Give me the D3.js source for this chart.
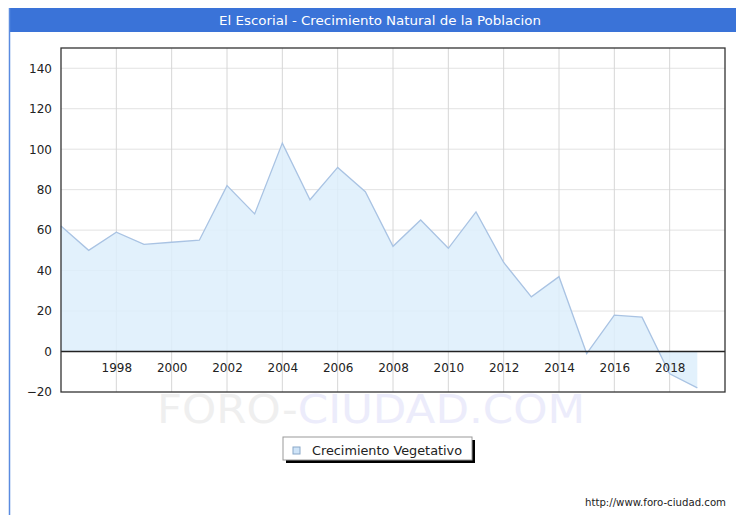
<!DOCTYPE html>
<html>
<head>
<meta charset="utf-8">
<script src="https://cdn.jsdelivr.net/npm/d3@7.9.0/dist/d3.min.js"></script>
<style>
  body { margin: 0; background: #fff; }
  svg { display: block; font-family: "DejaVu Sans", Verdana, sans-serif; }
</style>
</head>
<body>
<div id="viz"></div>
<script>
// Data
const years = [1996, 1997, 1998, 1999, 2000, 2001, 2002, 2003, 2004, 2005, 2006, 2007,
               2008, 2009, 2010, 2011, 2012, 2013, 2014, 2015, 2016, 2017, 2018, 2019];
const values = [62, 50, 59, 53, 54, 55, 82, 68, 103, 75, 91, 79,
                 52, 65, 51, 69, 44, 27, 37, -1, 18, 17, -11, -18];
const xTicks = [1998, 2000, 2002, 2004, 2006, 2008, 2010, 2012, 2014, 2016, 2018];
const yTicks = [-20, 0, 20, 40, 60, 80, 100, 120, 140];

const titleText = "El Escorial - Crecimiento Natural de la Poblacion";
const seriesName = "Crecimiento Vegetativo";

const data = years.map((y, i) => ({ year: y, value: values[i] }));

const W = 736, H = 515;
const plot = { left: 61, top: 48, right: 725, bottom: 392 };

const svg = d3.select("#viz").append("svg")
    .attr("width", W)
    .attr("height", H);

// title bar + left border of the frame
svg.append("rect")
    .attr("x", 9).attr("y", 8)
    .attr("width", W - 9).attr("height", 24)
    .attr("fill", "#3a73d8");
svg.append("line")
    .attr("x1", 9.5).attr("x2", 9.5)
    .attr("y1", 8).attr("y2", H)
    .attr("stroke", "#5a8be0").attr("stroke-width", 1.5);
svg.append("text")
    .attr("x", 380).attr("y", 25)
    .attr("text-anchor", "middle")
    .attr("fill", "#fff")
    .style("font-size", "12.5px")
    .attr("textLength", 322)
    .attr("lengthAdjust", "spacingAndGlyphs")
    .text(titleText);

var x = d3.scaleLinear()
    .domain([1996, 2020])
    .range([plot.left, plot.right]);
var y = d3.scaleLinear()
    .domain([-20, 150])
    .range([plot.bottom, plot.top]);

// watermark
const wm = svg.append("text")
    .attr("x", 157).attr("y", 423)
    .style("font-size", "39px")
    .attr("textLength", 428)
    .attr("lengthAdjust", "spacingAndGlyphs");
wm.append("tspan").attr("fill", "#efefef").text("FORO-");
wm.append("tspan").attr("fill", "#ececfb").text("CIUDAD.COM");

// grid
svg.append("g")
  .selectAll("line")
  .data(yTicks.filter(d => d > -20 && d !== 0))
  .join("line")
    .attr("x1", plot.left).attr("x2", plot.right)
    .attr("y1", d => y(d)).attr("y2", d => y(d))
    .attr("stroke", "#e2e2e2");
svg.append("g")
  .selectAll("line")
  .data(xTicks)
  .join("line")
    .attr("x1", d => x(d)).attr("x2", d => x(d))
    .attr("y1", plot.top).attr("y2", plot.bottom)
    .attr("stroke", "#d6d6d6");

// area + line
svg.append("path")
    .datum(data)
    .attr("fill", "#ddeefc")
    .attr("fill-opacity", 0.85)
    .attr("d", d3.area()
      .x(d => x(d.year))
      .y0(y(0))
      .y1(d => y(d.value)));
svg.append("path")
    .datum(data)
    .attr("fill", "none")
    .attr("stroke", "#a9c3e3")
    .attr("stroke-width", 1.3)
    .attr("d", d3.line()
      .x(d => x(d.year))
      .y(d => y(d.value)));

// zero line
svg.append("line")
    .attr("x1", plot.left).attr("x2", plot.right)
    .attr("y1", y(0)).attr("y2", y(0))
    .attr("stroke", "#222").attr("stroke-width", 1.5);

// frame
svg.append("rect")
    .attr("x", plot.left).attr("y", plot.top)
    .attr("width", plot.right - plot.left)
    .attr("height", plot.bottom - plot.top)
    .attr("fill", "none")
    .attr("stroke", "#333")
    .attr("stroke-width", 1.3);

// axes
const yAxis = svg.append("g")
    .attr("transform", "translate(" + plot.left + ",0)")
    .call(d3.axisLeft(y).tickValues(yTicks).tickSize(0).tickPadding(9));
const xAxis = svg.append("g")
    .attr("transform", "translate(0," + y(0) + ")")
    .call(d3.axisBottom(x).tickValues(xTicks).tickFormat(d3.format("d")).tickSize(0).tickPadding(12));
[xAxis, yAxis].forEach(g => {
  g.select(".domain").remove();
  g.selectAll("text")
    .attr("fill", "#222")
    .style("font-size", "12px")
    .style("font-family", "'DejaVu Sans', Verdana, sans-serif");
});

// legend
const lg = svg.append("g").attr("transform", "translate(283,437)");
lg.append("rect")
    .attr("x", 3).attr("y", 3)
    .attr("width", 189).attr("height", 23)
    .attr("fill", "#000");
lg.append("rect")
    .attr("x", 0).attr("y", 0)
    .attr("width", 189).attr("height", 23)
    .attr("fill", "#fff")
    .attr("stroke", "#999");
lg.append("rect")
    .attr("x", 10).attr("y", 10)
    .attr("width", 7).attr("height", 7)
    .attr("fill", "#cfe4f8")
    .attr("stroke", "#8aa8c8");
lg.append("text")
    .attr("x", 29).attr("y", 17.5)
    .attr("fill", "#222")
    .style("font-size", "12px")
    .attr("textLength", 150)
    .attr("lengthAdjust", "spacingAndGlyphs")
    .text(seriesName);

// footer
svg.append("text")
    .attr("x", 726).attr("y", 506)
    .attr("text-anchor", "end")
    .attr("fill", "#222")
    .style("font-size", "10px")
    .attr("textLength", 141)
    .attr("lengthAdjust", "spacingAndGlyphs")
    .text("http://www.foro-ciudad.com");
</script>
</body>
</html>
